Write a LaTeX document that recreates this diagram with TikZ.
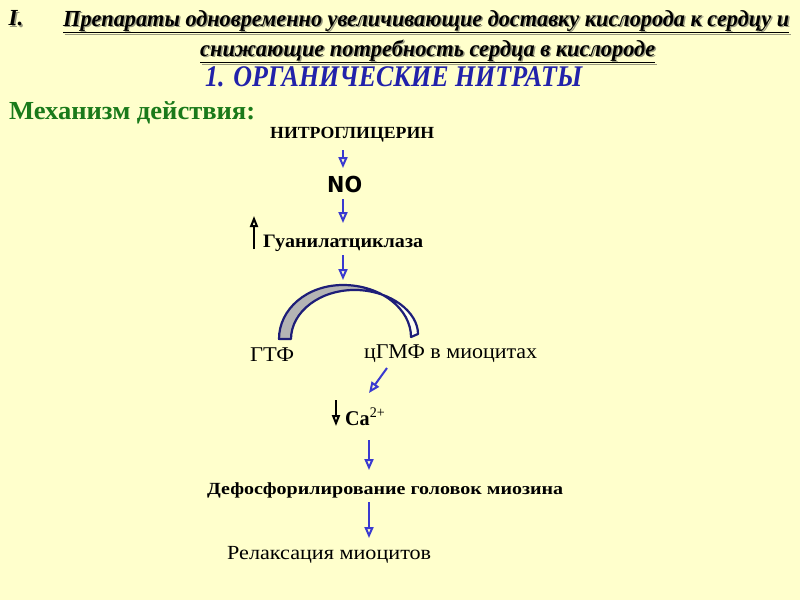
\documentclass[tikz,border=0pt]{standalone}
\usepackage{fontspec}
\usepackage{graphicx}
\setmainfont{Liberation Serif}
\newfontfamily\nofont{DejaVu Sans}
\usetikzlibrary{arrows.meta}
\definecolor{bgc}{HTML}{FFFFCC}
\definecolor{headblue}{HTML}{2222AA}
\definecolor{mechgreen}{HTML}{1A7A1A}
\definecolor{arrowblue}{HTML}{3A3AD0}
\definecolor{arcline}{HTML}{1E1E78}
\definecolor{arcgray}{HTML}{B4B4B4}
\definecolor{shadowc}{HTML}{9A9A80}
\newcommand\fitw[2]{\resizebox{#1}{\height}{#2}}
\newcommand\ttlfont{\bfseries\itshape\fontsize{23}{25}\selectfont}
\newcommand\ttlone{Препараты одновременно увеличивающие доставку кислорода к сердцу и}
\newcommand\ttltwo{снижающие потребность сердца в кислороде}
\begin{document}
\begin{tikzpicture}[x=1pt,y=-1pt,
  txt/.style={inner sep=0pt, anchor=base west},
  barrow/.style={draw=arrowblue, line width=2pt, -{Triangle[open,length=11pt,width=9pt,fill=bgc]}},
  karrow/.style={draw=black, line width=2pt, -{Triangle[open,length=11pt,width=8pt,fill=bgc]}},
  arcout/.style={draw=arcline, line width=2.2pt, line join=round}
]
\fill[bgc] (0,0) rectangle (800,600);
\useasboundingbox (0,0) rectangle (800,600);

% title with shadow
\node[txt, text=shadowc] (numsh) at (10,27) {\ttlfont I.};
\node[txt] (num) at (8.5,25.5) {\ttlfont I.};
\node[txt, text=shadowc] (t1sh) at (64.5,27.5) {\fitw{726pt}{\ttlfont\underline{\ttlone}}};
\node[txt] (t1) at (63,26) {\fitw{726pt}{\ttlfont\underline{\ttlone}}};
\node[txt, text=shadowc] (t2sh) at (201.5,57.5) {\fitw{455pt}{\ttlfont\underline{\ttltwo}}};
\node[txt] (t2) at (200,56) {\fitw{455pt}{\ttlfont\underline{\ttltwo}}};

\node[txt, text=headblue] (head) at (205,86) {\fitw{377pt}{\bfseries\itshape\fontsize{30}{32}\selectfont 1. ОРГАНИЧЕСКИЕ НИТРАТЫ}};
\node[txt, text=mechgreen] (mech) at (9,119) {\fitw{246pt}{\bfseries\fontsize{26}{28}\selectfont Механизм действия:}};

\node[txt] (nitro) at (270,138) {\fitw{164pt}{\bfseries\fontsize{17}{20}\selectfont НИТРОГЛИЦЕРИН}};
\node[txt] (no) at (327,192) {\fitw{35pt}{\nofont\bfseries\fontsize{22}{24}\selectfont NO}};
\node[txt] (gc) at (263,247) {\fitw{160pt}{\bfseries\fontsize{19}{22}\selectfont Гуанилатциклаза}};
\node[txt] (gtp) at (250,361) {\fitw{44pt}{\fontsize{21}{22}\selectfont ГТФ}};
\node[txt] (cgmp) at (364,358) {\fitw{173pt}{\fontsize{21}{22}\selectfont цГМФ в миоцитах}};
\node[txt] (ca) at (345,425) {\fitw{40pt}{\fontsize{21}{22}\selectfont\textbf{Ca}\textsuperscript{2+}}};
\node[txt] (deph) at (207,494) {\fitw{356pt}{\bfseries\fontsize{17}{20}\selectfont Дефосфорилирование головок миозина}};
\node[txt] (relax) at (227,559) {\fitw{204pt}{\fontsize{20}{22}\selectfont Релаксация миоцитов}};

% arrow end points
\coordinate (a1s) at (343,150); \coordinate (a1e) at (343,168);
\coordinate (a2s) at (343,199); \coordinate (a2e) at (343,223);
\coordinate (a3s) at (343,255); \coordinate (a3e) at (343,280);
\coordinate (ups) at (254,249); \coordinate (upe) at (254,216);
\coordinate (dgs) at (387,368); \coordinate (dge) at (369,393);
\coordinate (dns) at (336,400); \coordinate (dne) at (336,426);
\coordinate (a5s) at (369,440); \coordinate (a5e) at (369,470);
\coordinate (a6s) at (369,502); \coordinate (a6e) at (369,538);

\draw[barrow] (a1s) -- (a1e);
\draw[barrow] (a2s) -- (a2e);
\draw[barrow] (a3s) -- (a3e);
\draw[karrow] (ups) -- (upe);
\draw[barrow] (dgs) -- (dge);
\draw[karrow] (dns) -- (dne);
\draw[barrow] (a5s) -- (a5e);
\draw[barrow] (a6s) -- (a6e);

% curved ribbon GTP -> cGMP
\def\ribbon{(279,339) .. controls (279,309) and (307,285) .. (343,285)
  .. controls (381,285) and (411,309) .. (411,337)
  -- (418,334) .. controls (418,312) and (391,291) .. (357,290)
  .. controls (320,289) and (291,312) .. (291,339) -- cycle}
\begin{scope}
  \clip (0,0) rectangle (372,600);
  \fill[arcgray] \ribbon;
\end{scope}
\begin{scope}
  \clip (372,0) rectangle (800,600);
  \fill[white!70!bgc] \ribbon;
\end{scope}
\draw[arcout] \ribbon;
\end{tikzpicture}
\end{document}
